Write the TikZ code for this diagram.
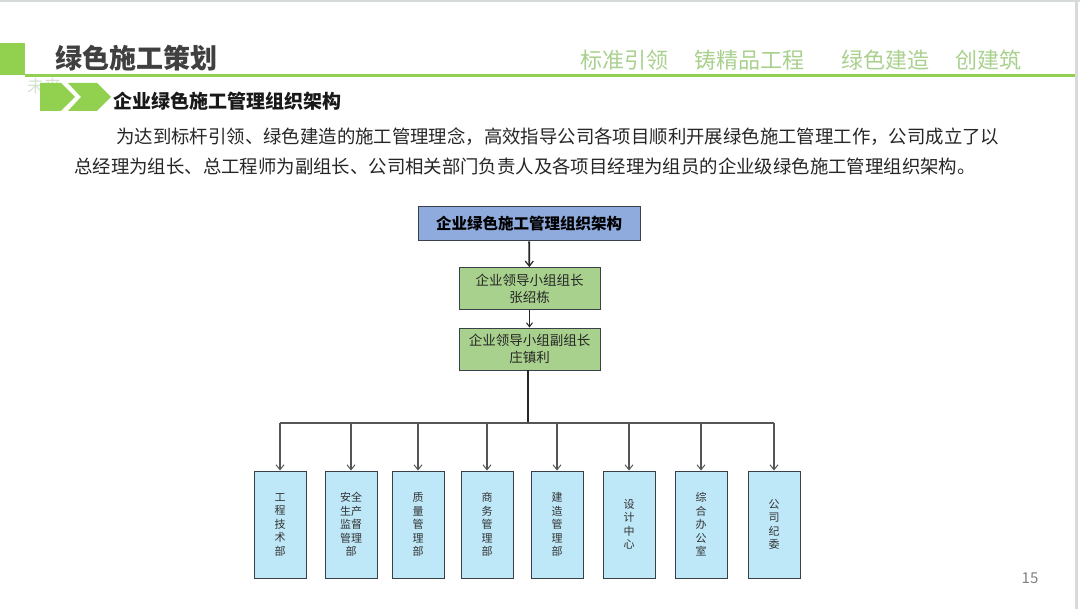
\documentclass[tikz,border=0pt]{standalone}
\usepackage{fontspec}
\setmainfont{Noto Sans CJK SC}
\usetikzlibrary{arrows.meta}
\definecolor{brandgreen}{HTML}{92D050}
\definecolor{slogan}{HTML}{A9D18E}
\definecolor{titlegray}{HTML}{404040}
\definecolor{topblue}{HTML}{8FAADC}
\definecolor{leadgreen}{HTML}{A9D18E}
\definecolor{deptblue}{HTML}{BEE8F8}
\definecolor{edgegray}{HTML}{3A4048}
\definecolor{linkgray}{HTML}{555555}
\definecolor{framegray}{HTML}{D6DADA}
\definecolor{faint}{HTML}{D3E3CF}
\newcommand{\fs}[2]{\fontsize{#1}{#2}\selectfont}
\tikzset{
  topbox/.style={draw=edgegray, line width=1pt, fill=topblue, minimum width=222pt, minimum height=34pt, inner sep=0pt, font=\fs{15.5}{18}\bfseries},
  leadbox/.style={draw=edgegray, line width=0.9pt, fill=leadgreen, minimum width=141pt, minimum height=42pt, inner sep=0pt, align=center, font=\fs{13.5}{17}, text=black!85},
  deptbox/.style={draw=edgegray, line width=0.9pt, fill=deptblue, minimum width=52pt, minimum height=107pt, inner sep=0pt, align=center, font=\fs{11}{13.5}, text=black!80},
  mainlink/.style={line width=1.8pt, black!85, -{Straight Barb[length=5pt,width=8pt,line width=1.2pt]}},
  droplink/.style={line width=1.3pt, linkgray, -{Straight Barb[length=5pt,width=8pt,line width=1pt]}},
  busline/.style={line width=1.5pt, linkgray},
  para/.style={anchor=west, inner sep=0pt, font=\fs{18.4}{22}, text=black!85},
}
\begin{document}
\begin{tikzpicture}[x=1pt,y=-1pt]
\useasboundingbox (0,0) rectangle (1080,609);
\fill[white] (0,0) rectangle (1080,609);
% frame
\fill[framegray] (0,0) rectangle (1080,2.5);
\fill[framegray] (1075,0) rectangle (1078,609);
% header
\fill[brandgreen] (0,43) rectangle (25,75);
\fill[brandgreen] (25,74.5) rectangle (1075,77.5);
\node[anchor=west, inner sep=0pt, font=\fs{27}{30}\bfseries, text=titlegray] (title) at (55,58) {绿色施工策划};
\node[anchor=west, inner sep=0pt, font=\fs{22}{26}, text=slogan] (slogan1) at (580,60) {标准引领};
\node[anchor=west, inner sep=0pt, font=\fs{22}{26}, text=slogan] (slogan2) at (694,60) {铸精品工程};
\node[anchor=west, inner sep=0pt, font=\fs{22}{26}, text=slogan] (slogan3) at (841,60) {绿色建造};
\node[anchor=west, inner sep=0pt, font=\fs{22}{26}, text=slogan] (slogan4) at (955,60) {创建筑};
% faint text behind chevrons
\node[anchor=west, inner sep=0pt, font=\fs{17}{20}, text=faint] (faint) at (27,86) {未来};
% chevrons
\fill[brandgreen] (40,83) -- (61,83) -- (75,97) -- (61,111) -- (40,111) -- cycle;
\fill[brandgreen] (68,83) -- (97,83) -- (111,97) -- (97,111) -- (68,111) -- (81,97) -- cycle;
\node[anchor=west, inner sep=0pt, font=\fs{19}{22}\bfseries, text=black!90] (subtitle) at (113,101) {企业绿色施工管理组织架构};
% paragraph
\node[para] (line1) at (116,137) {为达到标杆引领、绿色建造的施工管理理念，高效指导公司各项目顺利开展绿色施工管理工作，公司成立了以};
\node[para] (line2) at (74,166) {总经理为组长、总工程师为副组长、公司相关部门负责人及各项目经理为组员的企业级绿色施工管理组织架构。};
% chart
\node[topbox] (top) at (529,224) {企业绿色施工管理组织架构};
\node[leadbox] (g1) at (529.5,288.5) {企业领导小组组长\\张绍栋};
\node[leadbox] (g2) at (529.5,349) {企业领导小组副组长\\庄镇利};
\draw[mainlink] (top) -- (g1);
\draw[line width=1.2pt, black!85, -{Straight Barb[length=4pt,width=6pt,line width=1pt]}] (g1) -- (g2);
\node[deptbox] (d1) at (280,524.5) {工\\程\\技\\术\\部};
\node[deptbox] (d2) at (351,524.5) {安全\\生产\\监督\\管理\\部};
\node[deptbox] (d3) at (418,524.5) {质\\量\\管\\理\\部};
\node[deptbox] (d4) at (487,524.5) {商\\务\\管\\理\\部};
\node[deptbox] (d5) at (557,524.5) {建\\造\\管\\理\\部};
\node[deptbox] (d6) at (629,524.5) {设\\计\\中\\心};
\node[deptbox] (d7) at (701,524.5) {综\\合\\办\\公\\室};
\node[deptbox] (d8) at (774,524.5) {公\\司\\纪\\委};
\coordinate (bus) at (528,423);
\draw[line width=1.8pt, black!85] (g2.south -| bus) -- (bus);
\draw[busline] (d1.north |- bus) -- (d8.north |- bus);
\foreach \d in {d1,d2,d3,d4,d5,d6,d7,d8}
  \draw[droplink] (\d.north |- bus) -- (\d.north);
% page number
\node[inner sep=0pt, font=\fs{15}{18}, text=black!50] (pagenum) at (1030,578) {15};
\end{tikzpicture}
\end{document}
